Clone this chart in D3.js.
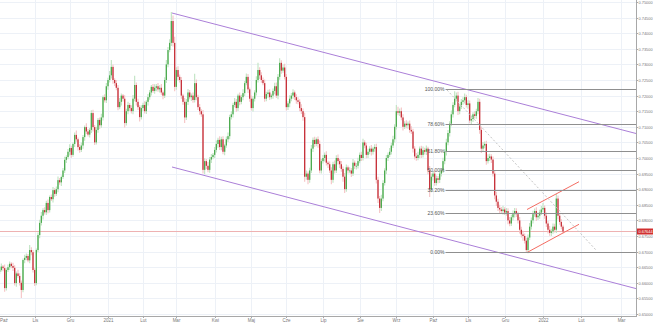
<!DOCTYPE html>
<html><head><meta charset="utf-8">
<script src="https://cdn.jsdelivr.net/npm/d3@7"></script>
<style>
body{margin:0;background:#fff;overflow:hidden}
svg{display:block}
text{font-family:"Liberation Sans",Arial,sans-serif}
</style>
</head><body>
<svg id="chart" width="653" height="323"></svg>
<script>
// ---- DATA (prices in pips, 6630 = 0.6630) ----
const firstOpen = 6630;
const closes = [
6635,6641,6652,6647,6583,6641,6650,6661,6654,6648,
6599,6630,6622,6600,6577,6673,6680,6686,6672,6705,
6698,6641,6599,6705,6753,6792,6815,6833,6826,6856,
6833,6875,6868,6897,6885,6900,6929,6922,6939,6960,
6994,7003,7020,7032,7010,7045,7074,7060,7035,7026,
7040,7067,7099,7085,7075,7090,7144,7099,7050,7090,
7122,7105,7130,7195,7185,7230,7250,7265,7292,7250,
7240,7225,7163,7180,7200,7190,7112,7150,7170,7160,
7150,7190,7234,7180,7163,7131,7160,7170,7150,7180,
7195,7210,7228,7215,7225,7230,7220,7225,7210,7200,
7250,7300,7346,7369,7439,7369,7228,7282,7260,7250,
7200,7180,7130,7180,7210,7195,7200,7186,7240,7195,
7163,7150,7140,6962,6990,6975,6962,6995,7003,7010,
7026,7045,7058,7035,7060,7020,7040,7060,7070,7131,
7140,7170,7180,7160,7200,7180,7195,7208,7240,7260,
7220,7190,7160,7190,7210,7250,7282,7265,7250,7240,
7190,7205,7210,7195,7200,7215,7230,7200,7260,7305,
7280,7290,7260,7163,7175,7190,7200,7210,7195,7185,
7180,7160,7150,7131,6940,6950,6930,6960,7030,7058,
7045,7060,7045,6960,6990,7000,7010,6985,6980,6960,
6930,6980,6960,7000,6990,6980,6965,6940,6900,6970,
6960,6960,6950,6985,6975,6975,6990,7010,7000,7050,
7040,7010,7020,7030,7020,7030,7035,6930,6870,6840,
6870,6920,6960,7000,7010,7020,7040,7060,7100,7150,
7145,7150,7130,7100,7110,7105,7110,7090,7085,7030,
7005,7000,7010,7030,7010,7025,7020,7030,6960,6900,
6940,6950,6920,6935,6930,6950,6960,6990,7020,7050,
7080,7110,7140,7170,7190,7200,7150,7165,7180,7185,
7195,7170,7175,7120,7125,7140,7135,7150,7180,7090,
7030,7040,7045,6990,7000,7005,6995,6950,6880,6860,
6840,6835,6830,6835,6825,6830,6800,6790,6810,6820,
6830,6820,6800,6770,6755,6750,6735,6705,6745,6780,
6800,6820,6830,6810,6815,6825,6835,6840,6815,6790,
6770,6760,6765,6780,6770,6870,6815,6795,6780,6764
];
const wickUp = [
8,6,10,5,12,6,9,7,5,10,8,6,12,9,7,5,10,8,6,16,
9,7,6,5,8,10,12,6,9,7,11,5,8,10,6,9,12,7,5,8,
10,6,9,12,7,5,8,14,6,9,10,7,5,12,8,6,9,11,7,10,
6,8,12,5,9,10,7,14,22,8,6,10,9,12,7,5,11,8,10,6,
9,12,30,8,10,6,9,7,12,5,10,8,6,9,11,7,10,8,12,6,
9,14,10,12,29,18,20,9,12,8,10,6,12,9,11,8,7,10,30,12,
8,10,6,14,9,7,12,8,10,6,9,11,7,12,8,10,6,9,12,8,
10,7,12,9,6,10,8,12,7,11,9,6,10,8,7,12,23,9,10,8,
12,7,9,10,6,8,11,12,9,15,8,10,12,9,7,11,8,10,6,9,
10,8,12,9,14,10,7,9,12,8,10,6,9,11,7,10,8,12,6,9,
10,8,12,9,11,7,10,8,12,9,6,10,8,12,7,9,11,8,10,12,
7,9,10,8,12,6,9,11,10,8,12,9,7,10,8,12,9,11,8,20,
14,9,12,10,8,11,7,10,12,9,8,11,10,7,9,12,8,10,6,14,
10,8,12,9,7,10,8,11,9,12,10,8,12,9,24,10,12,8,9,10,
12,8,10,9,11,7,10,8,12,10,9,11,8,10,12,9,7,10,8,12,
9,10,8,12,7,10,9,11,8,12,10,9,8,11,10,12,8,9,10,12,
9,11,8,12,10,9,11,16,8,10,9,12,8,10,9,15,10,8,9,6
];
const wickDn = [
9,7,5,10,12,8,6,9,7,10,8,12,6,9,26,7,10,8,6,9,
10,8,9,7,6,10,8,12,7,9,10,8,6,11,9,7,10,8,12,6,
8,10,7,12,9,6,10,8,11,9,7,10,12,8,6,9,10,14,8,7,
9,12,8,10,7,9,11,8,10,12,9,8,10,7,12,9,14,8,10,9,
7,10,8,12,9,14,8,10,7,9,12,8,10,6,9,11,8,10,7,12,
8,10,9,7,10,12,14,9,11,8,10,9,18,8,10,7,12,9,8,10,
9,11,8,12,14,10,8,9,11,7,10,8,12,9,10,8,11,7,9,10,
8,10,7,12,9,11,8,10,9,7,12,10,8,11,9,10,8,12,9,7,
10,8,12,9,7,10,11,8,12,9,10,7,8,11,9,12,8,10,9,11,
8,10,9,12,16,10,14,9,8,11,10,7,12,9,10,8,11,9,12,8,
14,9,10,8,11,12,9,16,12,8,10,9,11,8,10,12,9,7,10,8,
9,11,10,8,12,9,10,12,14,16,10,9,8,11,10,7,9,8,10,9,
8,10,9,12,7,10,11,9,8,12,10,9,7,11,10,8,9,10,12,25,
10,12,9,8,11,10,9,8,10,12,9,11,8,10,7,9,12,10,8,9,
10,8,12,9,11,10,8,9,10,12,14,10,9,12,8,10,11,9,12,14,
10,12,9,11,8,10,12,9,8,10,11,9,10,12,10,15,9,6,10,8,
9,10,8,12,9,10,8,9,10,11,12,9,10,8,9,10,12,9,8,6
];
// month ticks: trading-day index of first session of each month
const tickIdx = [0,22,43,66,87,107,130,152,173,195,217,239,261,282,304,327,348,368];
const tickLabels = ["Paź","Lis","Gru","2021","Lut","Mar","Kwi","Maj","Cze","Lip","Sie","Wrz","Paź","Lis","Gru","2022","Lut","Mar"];
const priceTickStart = 0.650, priceTickEnd = 0.750, priceTickStep = 0.005;
const lastPrice = 0.67644;
const fibLow = 0.6700, fibHigh = 0.7220, fibStartIdx = 268.5;
const fibRatios = [0, 0.236, 0.382, 0.5, 0.618, 0.786, 1];
const fibLabels = ["0.00%","23.60%","38.20%","50.00%","61.80%","78.60%","100.00%"];
// drawings: [index, price]
const channelUpper = [[104.4, 0.74647], [259.2, 0.7250]];
const channelLower = [[104.4, 0.69712], [259.2, 0.67545]];
const wedgeUpper = [[317.4, 0.68349], [347, 0.69240]];
const wedgeLower = [[317.4, 0.66971], [347, 0.67875]];
const dashedLine = [[269.4, 0.72179], [355.5, 0.67051]];

// ---- LAYOUT ----
const W = 653, H = 323;
const plotRight = 636, plotBottom = 316;
const svg = d3.select("#chart");

const x = d3.scaleLinear().domain([0, 339, 368]).range([-2, 563, 621]);
const y = d3.scaleLinear().domain([0.65, 0.75]).range([314, 2]);

svg.append("defs").append("clipPath").attr("id","clip")
  .append("rect").attr("x",0).attr("y",0).attr("width",plotRight).attr("height",plotBottom);

const priceTicks = d3.range(Math.round((priceTickEnd-priceTickStart)/priceTickStep)+1)
  .map(k => +(priceTickStart + k*priceTickStep).toFixed(3));

// grid
const grid = svg.append("g").attr("clip-path","url(#clip)");
grid.selectAll("line.h").data(priceTicks).join("line")
  .attr("x1",0).attr("x2",plotRight)
  .attr("y1",d=>Math.round(y(d))+0.5).attr("y2",d=>Math.round(y(d))+0.5)
  .attr("stroke","#edf1f7").attr("stroke-width",1);
grid.selectAll("line.v").data(tickIdx).join("line")
  .attr("y1",0).attr("y2",plotBottom)
  .attr("x1",d=>Math.round(x(d))+0.5).attr("x2",d=>Math.round(x(d))+0.5)
  .attr("stroke","#edf1f7").attr("stroke-width",1);

const plot = svg.append("g").attr("clip-path","url(#clip)");

// current price line
plot.append("line").attr("x1",0).attr("x2",plotRight)
  .attr("y1",y(lastPrice)).attr("y2",y(lastPrice))
  .attr("stroke","#eeb2b2").attr("stroke-width",1);

// fib levels
const fibG = svg.append("g");
fibRatios.forEach((r,k)=>{
  const p = fibLow + r*(fibHigh-fibLow);
  const yy = Math.round(y(p))+0.5;
  fibG.append("line").attr("x1",x(fibStartIdx)).attr("x2",plotRight)
    .attr("y1",yy).attr("y2",yy).attr("stroke","#8f8f8f").attr("stroke-width",1);
  fibG.append("text").attr("x",x(fibStartIdx)-1).attr("y",yy+1.8)
    .attr("text-anchor","end").attr("font-size",5).attr("fill","#555").text(fibLabels[k]);
});

// candles
const candles = closes.map((c,i)=>{
  const o = i===0 ? firstOpen : closes[i-1];
  return {i, o:o/10000, c:c/10000, h:(Math.max(o,c)+wickUp[i])/10000, l:(Math.min(o,c)-wickDn[i])/10000};
});
plot.selectAll("line.wick").data(candles).join("line")
  .attr("x1",d=>x(d.i)).attr("x2",d=>x(d.i))
  .attr("y1",d=>y(d.h)).attr("y2",d=>y(d.l))
  .attr("stroke",d=>d.c>=d.o?"#bfe3c1":"#f5c2c4").attr("stroke-width",1.1);
plot.selectAll("rect.body").data(candles).join("rect")
  .attr("x",d=>x(d.i)-0.65).attr("width",1.3)
  .attr("y",d=>y(Math.max(d.o,d.c)))
  .attr("height",d=>Math.max(0.8, Math.abs(y(d.o)-y(d.c))))
  .attr("fill",d=>d.c>=d.o?"#4bab4e":"#c7313a");

// drawings
function ray(pts, color, extendRight, dash){
  const x1=x(pts[0][0]), y1=y(pts[0][1]), x2=x(pts[1][0]), y2=y(pts[1][1]);
  let ex=x2, ey=y2;
  if(extendRight){ ex = plotRight; ey = y1 + (y2-y1)*(ex-x1)/(x2-x1); }
  const ln = plot.append("line").attr("x1",x1).attr("y1",y1).attr("x2",ex).attr("y2",ey)
    .attr("stroke",color).attr("stroke-width",1);
  if(dash) ln.attr("stroke-dasharray",dash);
}
ray(channelUpper, "#ab7fd8", true);
ray(channelLower, "#ab7fd8", true);
ray(wedgeUpper, "#f46c62", false);
ray(wedgeLower, "#f46c62", false);
ray(dashedLine, "#c4c4c4", false, "2,2");

// right axis
const ra = svg.append("g");
ra.append("line").attr("x1",plotRight+0.5).attr("x2",plotRight+0.5).attr("y1",0).attr("y2",plotBottom)
  .attr("stroke","#a8a8a8");
priceTicks.forEach(p=>{
  const yy = Math.round(y(p))+0.5;
  ra.append("line").attr("x1",plotRight).attr("x2",plotRight+2).attr("y1",yy).attr("y2",yy).attr("stroke","#a8a8a8");
  ra.append("text").attr("x",plotRight+2.5).attr("y",Math.max(4, yy+1.5)).attr("font-size",3.9).attr("fill","#777")
    .text(d3.format(".5f")(p));
});
// last price tag
const ly = y(lastPrice);
ra.append("rect").attr("x",plotRight+1).attr("y",ly-3).attr("width",W-plotRight-1).attr("height",6).attr("fill","#d02f2f");
ra.append("text").attr("x",plotRight+2.5).attr("y",ly+1.5).attr("font-size",3.9).attr("fill","#fff")
  .text(d3.format(".5f")(lastPrice));

// bottom axis
const ba = svg.append("g");
ba.append("line").attr("x1",0).attr("x2",plotRight+1).attr("y1",plotBottom+0.5).attr("y2",plotBottom+0.5).attr("stroke","#a8a8a8");
tickIdx.forEach((t,k)=>{
  const xx = Math.round(x(t))+0.5;
  ba.append("line").attr("x1",xx).attr("x2",xx).attr("y1",plotBottom).attr("y2",plotBottom+2).attr("stroke","#a8a8a8");
  ba.append("text").attr("x",Math.max(4, xx)).attr("y",plotBottom+6).attr("text-anchor","middle").attr("font-size",4.5).attr("fill","#777")
    .text(tickLabels[k]);
});
</script>
</body></html>
